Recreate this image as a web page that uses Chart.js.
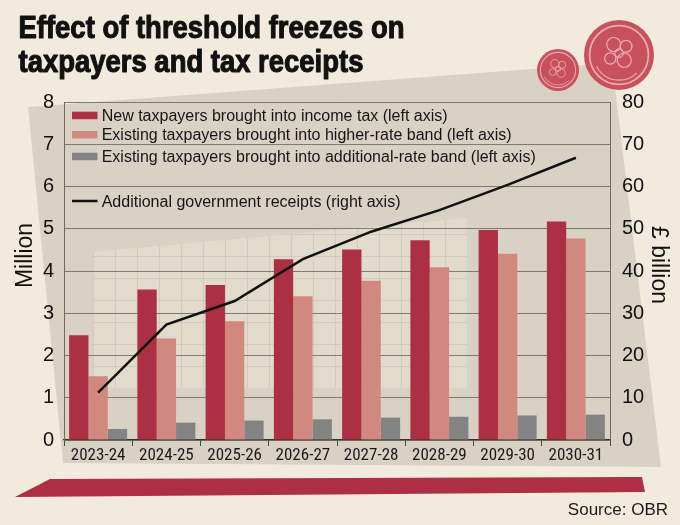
<!DOCTYPE html>
<html>
<head>
<meta charset="utf-8">
<script src="https://cdn.jsdelivr.net/npm/chart.js@4.4.0/dist/chart.umd.min.js"></script>
<style>
  html, body { margin: 0; padding: 0; background: #f2ebdd; }
  canvas { display: block; }
</style>
</head>
<body>
<canvas id="chart" width="680" height="525"></canvas>
<script>
// Data (OBR)
const years = ['2023-24', '2024-25', '2025-26', '2026-27', '2027-28', '2028-29', '2029-30', '2030-31'];
const newTaxpayers = [2.48, 3.56, 3.67, 4.28, 4.51, 4.73, 4.97, 5.17];
const higherRate = [1.51, 2.40, 2.81, 3.40, 3.77, 4.09, 4.41, 4.77];
const additionalRate = [0.26, 0.41, 0.46, 0.49, 0.53, 0.55, 0.58, 0.60];
const receipts = [11.2, 27.3, 32.9, 42.8, 49.3, 54.4, 60.4, 66.8];

const leftAxis = { min: 0, max: 8, step: 1, title: 'Million' };
const rightAxis = { min: 0, max: 80, step: 10, title: '£ billion' };

const titleLines = ['Effect of threshold freezes on', 'taxpayers and tax receipts'];
const sourceText = 'Source: OBR';

const PAPER = '#f2ebdd';
const SANS = '"Liberation Sans", Arial, sans-serif';
const NARROW = '"Liberation Sans Narrow", "Roboto Condensed", "Liberation Sans", sans-serif';

function poly(ctx, pts, fill) {
    ctx.beginPath();
    ctx.moveTo(pts[0][0], pts[0][1]);
    for (let i = 1; i < pts.length; i++) ctx.lineTo(pts[i][0], pts[i][1]);
    ctx.closePath();
    ctx.fillStyle = fill;
    ctx.fill();
}

function coin(ctx, x, y, r) {
    ctx.save();
    ctx.beginPath();
    ctx.arc(x, y, r, 0, Math.PI * 2);
    ctx.fillStyle = '#c9505d';
    ctx.fill();
    ctx.strokeStyle = '#e9aeb0';
    ctx.lineWidth = Math.max(1, r * 0.05);
    ctx.beginPath();
    ctx.arc(x, y, r * 0.84, 0, Math.PI * 2);
    ctx.stroke();
    // a rough rose-and-leaves motif
    ctx.lineWidth = Math.max(0.8, r * 0.035);
    const petals = [[-0.15, -0.3, 0.2], [0.2, -0.25, 0.17], [-0.25, 0.1, 0.16], [0.15, 0.15, 0.2], [0, -0.05, 0.12]];
    petals.forEach(p => {
        ctx.beginPath();
        ctx.arc(x + p[0] * r, y + p[1] * r, p[2] * r, 0, Math.PI * 2);
        ctx.stroke();
    });
    ctx.beginPath();
    ctx.arc(x, y, r * 0.72, Math.PI * 0.25, Math.PI * 0.85);
    ctx.stroke();
    ctx.restore();
}

// paper, tilted panels, coins, red band, title, axis titles, source
const backdrop = {
    id: 'backdrop',
    beforeDraw(chart) {
        const ctx = chart.ctx;
        ctx.save();
        ctx.fillStyle = PAPER;
        ctx.fillRect(0, 0, chart.width, chart.height);

        poly(ctx, [[28, 107], [612, 63], [661, 467], [63, 463]], '#d9d2c4');

        // lighter grid-paper sheet
        ctx.save();
        poly(ctx, [[93, 252], [467, 218], [467, 388], [93, 388]], '#e2dbcc');
        ctx.clip();
        ctx.strokeStyle = 'rgba(200,192,178,0.6)';
        ctx.lineWidth = 1;
        for (let gx = 93; gx < 470; gx += 22) {
            ctx.beginPath(); ctx.moveTo(gx + 0.5, 200); ctx.lineTo(gx + 0.5, 390); ctx.stroke();
        }
        for (let gy = 388; gy > 200; gy -= 22) {
            ctx.beginPath(); ctx.moveTo(90, gy + 0.5); ctx.lineTo(470, gy + 0.5); ctx.stroke();
        }
        ctx.restore();

        coin(ctx, 558, 70, 21);
        coin(ctx, 619, 55, 35);

        poly(ctx, [[50, 479], [642, 477], [645, 492], [15, 497]], '#ad2f43');

        // title, squeezed to a condensed heavy look
        ctx.fillStyle = '#111';
        ctx.strokeStyle = '#111';
        ctx.lineWidth = 1.1;
        ctx.lineJoin = 'round';
        ctx.font = 'bold 31px ' + SANS;
        ctx.textBaseline = 'alphabetic';
        const w = ctx.measureText(titleLines[0]).width;
        const sx = 386 / w;
        ctx.save();
        ctx.translate(18.5, 37.5);
        ctx.scale(sx, 1);
        titleLines.forEach((line, i) => {
            ctx.fillText(line, 0, i * 34.4);
            ctx.strokeText(line, 0, i * 34.4);
        });
        ctx.restore();

        // axis titles (placed off-centre, as in the original)
        ctx.font = '23px ' + SANS;
        ctx.textAlign = 'center';
        ctx.save();
        ctx.translate(31.5, 255.5);
        ctx.rotate(-Math.PI / 2);
        ctx.fillText(leftAxis.title, 0, 0);
        ctx.restore();
        ctx.save();
        ctx.translate(651.5, 265);
        ctx.rotate(Math.PI / 2);
        ctx.fillText(rightAxis.title, 0, 0);
        ctx.restore();

        ctx.font = '17px ' + SANS;
        ctx.textAlign = 'right';
        ctx.fillStyle = '#1a1a1a';
        ctx.fillText(sourceText, 668, 515);
        ctx.restore();
    }
};

// legend sitting inside the plot area, uneven row spacing as in the original
const insideLegend = {
    id: 'insideLegend',
    afterDatasetsDraw(chart) {
        const ctx = chart.ctx;
        const rows = [120.7, 140, 161.7, 206.7];
        ctx.save();
        ctx.font = '16px ' + SANS;
        ctx.textBaseline = 'alphabetic';
        ctx.textAlign = 'left';
        chart.data.datasets.forEach((ds, i) => {
            const base = rows[i];
            if (ds.type === 'line') {
                ctx.strokeStyle = ds.borderColor;
                ctx.lineWidth = 2.5;
                ctx.beginPath();
                ctx.moveTo(72, base - 5.7);
                ctx.lineTo(97.5, base - 5.7);
                ctx.stroke();
            } else {
                ctx.fillStyle = ds.backgroundColor;
                ctx.fillRect(72, base - 9, 25.5, 7.5);
            }
            ctx.fillStyle = '#151515';
            ctx.fillText(ds.label, 101.7, base);
        });
        ctx.restore();
    }
};

const ctx = document.getElementById('chart');
new Chart(ctx, {
    type: 'bar',
    data: {
        labels: years,
        datasets: [
            {
                label: 'New taxpayers brought into income tax (left axis)',
                data: newTaxpayers,
                backgroundColor: '#ad2f44',
                yAxisID: 'y',
                order: 1,
            },
            {
                label: 'Existing taxpayers brought into higher-rate band (left axis)',
                data: higherRate,
                backgroundColor: '#d1897f',
                yAxisID: 'y',
                order: 1,
            },
            {
                label: 'Existing taxpayers brought into additional-rate band (left axis)',
                data: additionalRate,
                backgroundColor: '#838383',
                yAxisID: 'y',
                order: 1,
            },
            {
                type: 'line',
                label: 'Additional government receipts (right axis)',
                data: receipts,
                borderColor: '#111111',
                borderWidth: 2.5,
                pointRadius: 0,
                tension: 0,
                yAxisID: 'y2',
                order: 0,
            },
        ],
    },
    options: {
        responsive: false,
        animation: false,
        categoryPercentage: 0.85,
        barPercentage: 1.0,
        layout: {
            padding: { top: 102, left: 15, right: 14, bottom: 45 },
        },
        plugins: {
            legend: { display: false },
            title: { display: false },
            tooltip: { enabled: false },
        },
        scales: {
            x: {
                offset: true,
                grid: {
                    display: true,
                    drawOnChartArea: false,
                    offset: true,
                    tickLength: 6,
                    color: '#444',
                },
                border: { display: true, color: '#333', width: 1.3 },
                ticks: {
                    color: '#1a1a1a',
                    font: { family: NARROW, size: 17 },
                    padding: 0,
                    maxRotation: 0,
                    autoSkip: false,
                },
                afterFit(scale) { scale.height = 40; },
            },
            y: {
                position: 'left',
                min: leftAxis.min,
                max: leftAxis.max,
                ticks: {
                    stepSize: leftAxis.step,
                    color: '#111',
                    font: { family: SANS, size: 20 },
                    padding: 10,
                },
                grid: {
                    color: 'rgba(110,104,95,0.85)',
                    drawTicks: false,
                },
                border: { display: true, color: '#6e6a63' },
                afterFit(scale) { scale.width = 49; },
            },
            y2: {
                position: 'right',
                min: rightAxis.min,
                max: rightAxis.max,
                ticks: {
                    stepSize: rightAxis.step,
                    color: '#111',
                    font: { family: SANS, size: 20 },
                    padding: 12,
                },
                grid: { drawOnChartArea: false, drawTicks: false },
                border: { display: true, color: '#6e6a63' },
                afterFit(scale) { scale.width = 56; },
            },
        },
    },
    plugins: [backdrop, insideLegend],
});
</script>
</body>
</html>
